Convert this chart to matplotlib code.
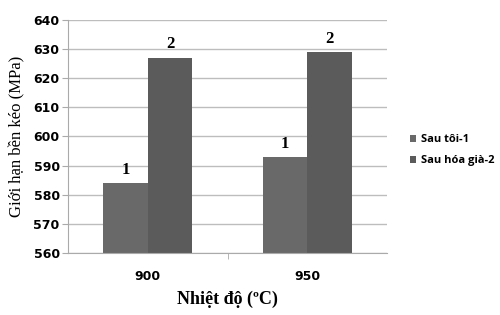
import numpy as np
import matplotlib.pyplot as plt

# Data
categories = ["900", "950"]
series_names = ["Sau tôi-1", "Sau hóa già-2"]
sau_toi = [584, 593]
sau_hoa_gia = [627, 629]
bar_tags = ["1", "2"]

colors = ["#696969", "#5b5b5b"]

fig = plt.figure(figsize=(5, 3.15), dpi=100)
ax = fig.add_axes([0.136, 0.197, 0.638, 0.74])

x = np.arange(len(categories))
width = 0.28

for i, (vals, name) in enumerate(zip([sau_toi, sau_hoa_gia], series_names)):
    pos = x + (i - 0.5) * width
    ax.bar(pos, vals, width, bottom=0, color=colors[i], label=name, zorder=2)
    for p, v in zip(pos, vals):
        ax.text(p, v + 1.8, bar_tags[i], ha="center", va="bottom",
                fontsize=12, fontweight="bold", family="Liberation Serif")

ax.set_ylim(560, 640)
ax.set_xlim(-0.5, 1.5)
ax.set_yticks(range(560, 641, 10))
ax.set_xticks(x)
ax.set_xticklabels(categories)
ax.set_xticks([0.5], minor=True)
ax.yaxis.grid(True, color="#bdbdbd", linewidth=1, zorder=0)
ax.set_axisbelow(True)

for s in ["top", "right"]:
    ax.spines[s].set_visible(False)
ax.spines["left"].set_color("#aaaaaa")
ax.spines["bottom"].set_color("#aaaaaa")
ax.tick_params(axis="y", length=4, color="#aaaaaa", pad=2)
ax.tick_params(axis="x", which="major", length=0, pad=12)
ax.tick_params(axis="x", which="minor", length=4, color="#aaaaaa")

for lbl in ax.get_xticklabels() + ax.get_yticklabels():
    lbl.set_fontweight("bold")
    lbl.set_fontsize(9)
    lbl.set_family("DejaVu Sans")

ax.set_ylabel("Giới hạn bền kéo (MPa)", family="Liberation Serif", fontsize=12, labelpad=6)
ax.set_xlabel("Nhiệt độ (ºC)", family="Liberation Serif", fontsize=13,
              fontweight="bold", labelpad=6)

leg = ax.legend(loc="center left", bbox_to_anchor=(1.04, 0.44), frameon=False,
                prop={"weight": "bold", "size": 8, "family": "Open Sans"},
                handlelength=0.6, handleheight=0.6,
                handletextpad=0.4, labelspacing=0.9)

fig.savefig("out.png", dpi=100)
